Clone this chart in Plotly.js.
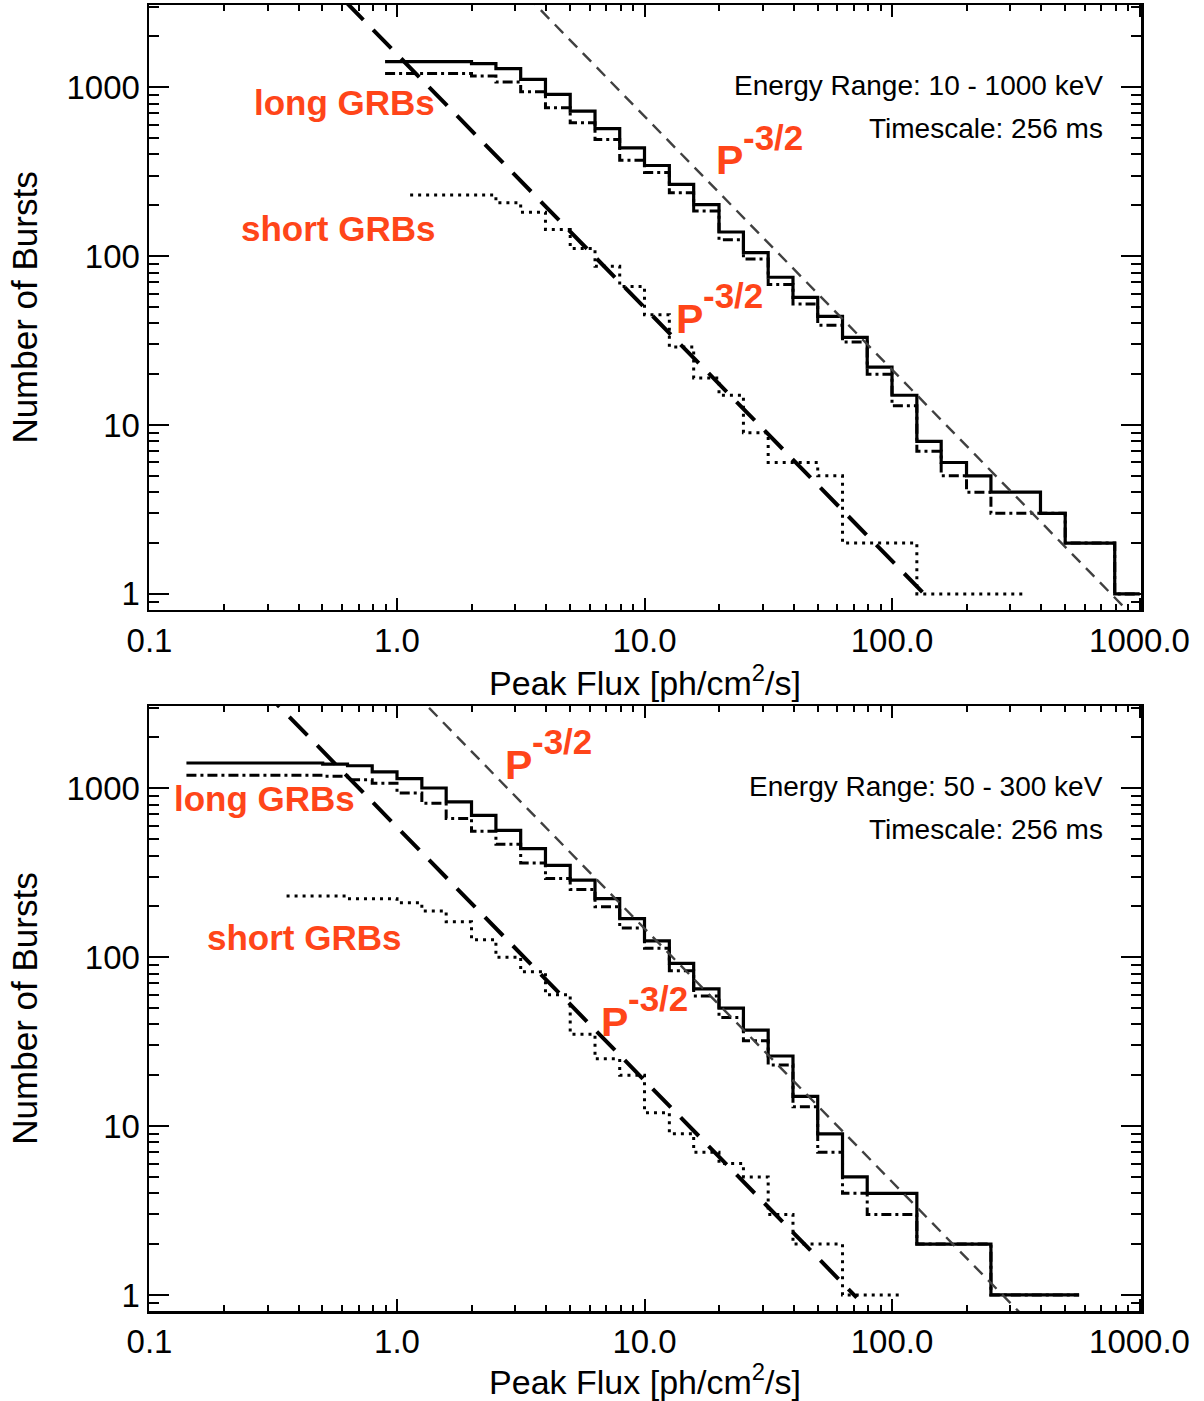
<!DOCTYPE html>
<html>
<head>
<meta charset="utf-8">
<script src="https://cdn.plot.ly/plotly-3.0.1.min.js"></script>
<style>html,body{margin:0;padding:0;background:#fff;}</style>
</head>
<body>
<div id="chart" style="width:1204px;height:1401px;"></div>
<script>
// ---------- DATA (cumulative number of bursts above peak flux) ----------
// Top panel: 10 - 1000 keV
const topAllEdges = [0.895, 2.00, 2.51, 3.16, 3.98, 5.01, 6.31, 7.94, 10.0, 12.6, 15.8, 20.0, 25.1, 31.6, 39.8, 50.1, 63.1, 79.4, 100, 126, 158, 200, 251, 316, 398, 501, 631, 794, 1000];
const topAllCounts = [1419, 1380, 1289, 1113, 908, 722, 569, 438, 344, 266, 202, 139, 105, 75, 57, 44, 33, 22, 15, 8, 6, 5, 4, 4, 3, 2, 2, 1];
const topLongCounts = [1205, 1166, 1074, 942, 757, 617, 491, 370, 313, 237, 185, 125, 96, 68, 52, 39, 31, 20, 13, 7, 5, 4, 3, 3, 3, 2, 2, 1];
const topShortEdges = [1.13, 2.51, 3.16, 3.98, 5.01, 6.31, 7.94, 10.0, 12.6, 15.8, 20.0, 25.1, 31.6, 50.1, 63.1, 126, 339];
const topShortCounts = [230, 207, 182, 144, 111, 87, 66, 45, 29, 19, 15, 9, 6, 5, 2, 1];

// Bottom panel: 50 - 300 keV
const botAllEdges = [0.141, 0.501, 0.631, 0.794, 1.00, 1.26, 1.58, 2.00, 2.51, 3.16, 3.98, 5.01, 6.31, 7.94, 10.0, 12.6, 15.8, 20.0, 25.1, 31.6, 39.8, 50.1, 63.1, 79.4, 126, 251, 570];
const botAllCounts = [1412, 1390, 1360, 1250, 1141, 1004, 830, 692, 564, 439, 350, 286, 222, 169, 125, 92, 65, 50, 37, 26, 15, 9, 5, 4, 2, 1];
const botLongCounts = [1194, 1180, 1125, 1070, 938, 815, 662, 557, 466, 361, 292, 252, 199, 149, 113, 83, 59, 44, 32, 23, 13, 7, 4, 3, 2, 1];
const botShortEdges = [0.358, 0.631, 1.00, 1.26, 1.58, 2.00, 2.51, 3.16, 3.98, 5.01, 6.31, 7.94, 10.0, 12.6, 15.8, 20.0, 25.1, 31.6, 39.8, 63.1, 108];
const botShortCounts = [230, 222, 210, 188, 162, 127, 100, 82, 60, 35, 25, 20, 12, 9, 7, 6, 5, 3, 2, 1];

// P^-3/2 reference lines: N = A * P^(-3/2), drawn between P limits
const slope = -1.5;
const topShortNorm = 1567, topShortLim = [0.1, 145];
const topAllNorm = 21280, topAllLim = [0.1, 1000];
const botShortNorm = 589, botShortLim = [0.1, 72];
const botAllNorm = 4677, botAllLim = [0.1, 1000];

const energyLabels = ['Energy Range: 10 - 1000 keV', 'Energy Range: 50 - 300 keV'];
const timescaleLabel = 'Timescale: 256 ms';

// ---------- BUILD ----------
const RED = '#ff4519';
const FONT = 'Liberation Sans, Arial, Helvetica, sans-serif';

function step(edges, counts, xa, ya, dash, width) {
  return {
    x: edges, y: counts.concat([counts[counts.length - 1]]),
    xaxis: xa, yaxis: ya, mode: 'lines', line: {shape: 'hv', color: '#000', width: width, dash: dash},
    hoverinfo: 'skip', showlegend: false
  };
}
function powerLine(norm, lim, xa, ya, color, dash, width) {
  return {
    x: lim, y: lim.map(p => norm * Math.pow(p, slope)),
    xaxis: xa, yaxis: ya, mode: 'lines', line: {color: color, width: width, dash: dash},
    hoverinfo: 'skip', showlegend: false
  };
}

const DASHDOT = '10px,4px,3px,4px';
const DOT = '3px,5px';
const traces = [
  step(topAllEdges, topAllCounts, 'x', 'y', 'solid', 3.2),
  step(topAllEdges, topLongCounts, 'x', 'y', DASHDOT, 3),
  step(topShortEdges, topShortCounts, 'x', 'y', DOT, 3),
  powerLine(topShortNorm, topShortLim, 'x', 'y', '#000', '26px,14px', 4),
  powerLine(topAllNorm, topAllLim, 'x', 'y', '#404040', '12px,8px', 2.4),
  step(botAllEdges, botAllCounts, 'x2', 'y2', 'solid', 3.2),
  step(botAllEdges, botLongCounts, 'x2', 'y2', DASHDOT, 3),
  step(botShortEdges, botShortCounts, 'x2', 'y2', DOT, 3),
  powerLine(botShortNorm, botShortLim, 'x2', 'y2', '#000', '26px,14px', 4),
  powerLine(botAllNorm, botAllLim, 'x2', 'y2', '#404040', '12px,8px', 2.4)
];

function xAxis(anchor) {
  return {
    type: 'log', range: [-1.002, 3.006], anchor: anchor,
    showline: true, linewidth: 2.5, linecolor: '#000', mirror: 'allticks',
    ticks: 'inside', ticklen: 12, tickwidth: 2, tickcolor: '#000',
    dtick: 1, tick0: 0, tickformat: '.1f',
    minor: {ticks: 'inside', ticklen: 6, tickwidth: 2, tickcolor: '#000', dtick: 'D1', showgrid: false},
    showgrid: false, zeroline: false,
    tickfont: {family: FONT, size: 33, color: '#000'},
    title: {text: 'Peak Flux [ph/cm<sup>2</sup>/s]', font: {family: FONT, size: 34, color: '#000'}, standoff: 4},
    automargin: false
  };
}
function yAxis(anchor, domain) {
  return {
    type: 'log', range: [-0.095, 3.487], anchor: anchor, domain: domain,
    showline: true, linewidth: 2.5, linecolor: '#000', mirror: 'allticks',
    ticks: 'inside', ticklen: 20, tickwidth: 2, tickcolor: '#000',
    dtick: 1, tick0: 0, tickformat: 'd',
    minor: {ticks: 'inside', ticklen: 10, tickwidth: 2, tickcolor: '#000', dtick: 'D1', showgrid: false},
    showgrid: false, zeroline: false,
    tickfont: {family: FONT, size: 33, color: '#000'},
    title: {text: 'Number of Bursts', font: {family: FONT, size: 35, color: '#000'}, standoff: 18},
    automargin: false
  };
}

function redText(text, xref, yref, x, y, xanchor, size) {
  return {text: text, xref: xref, yref: yref, x: x, y: y, xanchor: xanchor || 'center', yanchor: 'middle',
    showarrow: false, font: {family: FONT, size: size || 35, color: RED, weight: 'bold'}};
}
function blackText(text, xref, yref, x, y) {
  return {text: text, xref: xref, yref: yref, x: x, y: y, xanchor: 'right', yanchor: 'middle',
    showarrow: false, font: {family: FONT, size: 28, color: '#000'}};
}

const annotations = [
  // top panel (log10 coordinates)
  redText('long GRBs', 'x', 'y', -0.214, 2.910),
  redText('short GRBs', 'x', 'y', -0.240, 2.164),
  redText('P', 'x', 'y', 1.281, 2.567, 'left', 41),
  redText('-3/2', 'x', 'y', 1.390, 2.705, 'left'),
  redText('P', 'x', 'y', 1.119, 1.628, 'left', 41),
  redText('-3/2', 'x', 'y', 1.228, 1.768, 'left'),
  blackText(energyLabels[0], 'x', 'y', 2.860, 3.011),
  blackText(timescaleLabel, 'x', 'y', 2.860, 2.756),
  // bottom panel
  redText('long GRBs', 'x2', 'y2', -0.537, 2.941),
  redText('short GRBs', 'x2', 'y2', -0.374, 2.118),
  redText('P', 'x2', 'y2', 0.428, 3.136, 'left', 41),
  redText('-3/2', 'x2', 'y2', 0.537, 3.278, 'left'),
  redText('P', 'x2', 'y2', 0.816, 1.615, 'left', 41),
  redText('-3/2', 'x2', 'y2', 0.925, 1.757, 'left'),
  blackText(energyLabels[1], 'x2', 'y2', 2.860, 3.012),
  blackText(timescaleLabel, 'x2', 'y2', 2.860, 2.757)
];

const layout = {
  width: 1204, height: 1401,
  margin: {l: 149, r: 63, t: 5, b: 90, pad: 0},
  paper_bgcolor: '#fff', plot_bgcolor: '#fff',
  font: {family: FONT, color: '#000'},
  showlegend: false,
  xaxis: xAxis('y'),
  yaxis: yAxis('x', [0.5368, 1]),
  xaxis2: xAxis('y2'),
  yaxis2: yAxis('x2', [0, 0.4632]),
  annotations: annotations
};

Plotly.newPlot('chart', traces, layout, {staticPlot: true, displayModeBar: false});
</script>
</body>
</html>
